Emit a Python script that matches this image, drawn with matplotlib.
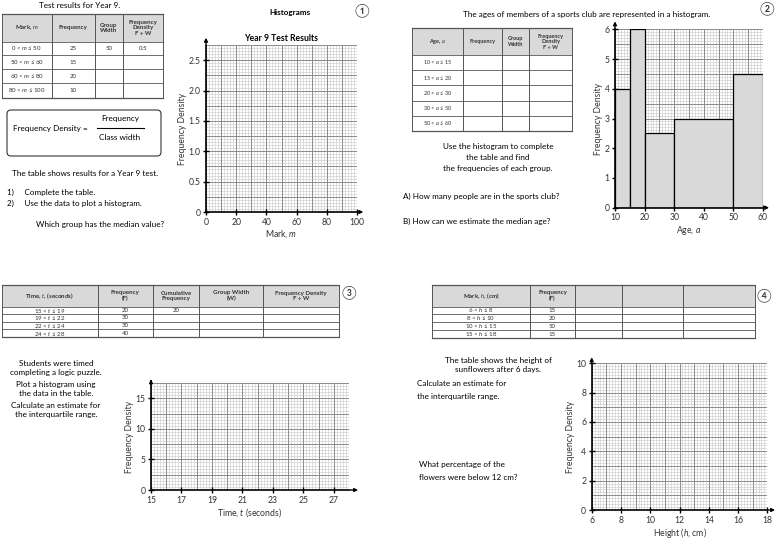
import numpy as np
import matplotlib
matplotlib.use('Agg')
import matplotlib.pyplot as plt
from matplotlib.patches import Rectangle, FancyBboxPatch

plt.rcParams['font.family'] = ['Lato', 'DejaVu Sans', 'Noto Sans CJK SC']
plt.rcParams['mathtext.fontset'] = 'custom'
plt.rcParams['mathtext.rm'] = 'Lato'
plt.rcParams['mathtext.it'] = 'Lato:italic'

# ---- data ----
# 1) Year 9 test
marks_groups = ['0 < $m$ ≤ 50', '50 < $m$ ≤ 60', '60 < $m$ ≤ 80', '80 < $m$ ≤ 100']
marks_freq = ['25', '15', '20', '10']
marks_width = ['50', '', '', '']
marks_fd = ['0.5', '', '', '']

# 2) sports club ages
age_groups = ['10 < $a$ ≤ 15', '15 < $a$ ≤ 20', '20 < $a$ ≤ 30', '30 < $a$ ≤ 50', '50 < $a$ ≤ 60']
age_edges = [10, 15, 20, 30, 50, 60]
age_density = [4, 6, 2.5, 3, 4.5]

# 3) logic puzzle times
time_groups = ['15 < $t$ ≤ 19', '19 < $t$ ≤ 22', '22 < $t$ ≤ 24', '24 < $t$ ≤ 28']
time_freq = ['20', '30', '30', '40']
time_cum = ['20', '', '', '']

# 4) sunflower heights
height_groups = ['6 < $h$ ≤ 8', '8 < $h$ ≤ 10', '10 < $h$ ≤ 15', '15 < $h$ ≤ 18']
height_freq = ['15', '20', '50', '15']

fig = plt.figure(figsize=(7.8, 5.4), dpi=100)
fig.patch.set_facecolor('white')

# overlay in pixel coordinates for text + tables
ov = fig.add_axes([0, 0, 1, 1])
ov.set_xlim(0, 780)
ov.set_ylim(540, 0)
ov.axis('off')

BODY = 5.9
TAB = 4.4
TICK = 6.2


def draw_table(cols, rows, header, body, fs=TAB):
    ov.add_patch(Rectangle((cols[0], rows[0]), cols[-1] - cols[0], rows[1] - rows[0],
                           facecolor='#d9d9d9', edgecolor='none'))
    for x in cols:
        ov.plot([x, x], [rows[0], rows[-1]], color='#555555', lw=0.7)
    for i, y in enumerate(rows):
        ov.plot([cols[0], cols[-1]], [y, y], color='#555555', lw=0.9 if i in (0, len(rows) - 1) else 0.6)
    for j, h in enumerate(header):
        ov.text((cols[j] + cols[j + 1]) / 2, (rows[0] + rows[1]) / 2, h, ha='center', va='center',
                fontsize=fs, fontweight='bold', linespacing=1.1, color='#333333')
    for i, row in enumerate(body):
        for j, v in enumerate(row):
            ov.text((cols[j] + cols[j + 1]) / 2, (rows[i + 1] + rows[i + 2]) / 2, v,
                    ha='center', va='center', fontsize=fs, color='#333333')


def grid_paper(ax, xlim, ylim, xminor, xmajor, yminor, ymajor, xticks, yticks):
    ax.set_xlim(*xlim)
    ax.set_ylim(*ylim)
    for x in np.arange(xlim[0], xlim[1] + 1e-9, xminor):
        ax.axvline(x, color='#c8c8c8', lw=0.4, zorder=0)
    for y in np.arange(ylim[0], ylim[1] + 1e-9, yminor):
        ax.axhline(y, color='#c8c8c8', lw=0.4, zorder=0)
    for x in np.arange(xlim[0], xlim[1] + 1e-9, xmajor):
        ax.axvline(x, color='#8c8c8c', lw=0.7, zorder=0)
    for y in np.arange(ylim[0], ylim[1] + 1e-9, ymajor):
        ax.axhline(y, color='#8c8c8c', lw=0.7, zorder=0)
    ax.set_xticks(xticks)
    ax.set_yticks(yticks)
    for s in ['top', 'right']:
        ax.spines[s].set_visible(False)
    for s in ['left', 'bottom']:
        ax.spines[s].set_linewidth(1.2)
        ax.spines[s].set_zorder(5)
    ax.tick_params(direction='inout', length=5, width=1, labelsize=TICK, pad=1.5,
                   labelcolor='#333333')
    ax.annotate('', xy=(0, 1.06), xytext=(0, 0.99), xycoords='axes fraction',
                arrowprops=dict(arrowstyle='-|>', color='black', lw=1, mutation_scale=5))
    ax.annotate('', xy=(1.06, 0), xytext=(0.99, 0), xycoords='axes fraction',
                arrowprops=dict(arrowstyle='-|>', color='black', lw=1, mutation_scale=5))
    ax.set_facecolor('white')


def label(ax, xl, yl):
    ax.set_xlabel(xl, fontsize=TICK, labelpad=1, color='#333333')
    ax.set_ylabel(yl, fontsize=TICK, labelpad=1, color='#333333')


# ---------- section 1 ----------
ov.text(80, 6, 'Test results for Year 9.', ha='center', va='center', fontsize=BODY)
draw_table([1.7, 51.7, 95, 122.7, 163], [14, 41.7, 55, 69, 83.3, 97.7],
           ['Mark, $m$', 'Frequency', 'Group\nWidth', 'Frequency\nDensity\nF ÷ W'],
           list(zip(marks_groups, marks_freq, marks_width, marks_fd)))
ov.add_patch(FancyBboxPatch((7, 110), 154, 46, boxstyle='round,pad=0,rounding_size=4',
                            facecolor='white', edgecolor='#333333', lw=0.8))
ov.text(50, 129, 'Frequency Density =', ha='center', va='center', fontsize=BODY)
ov.text(120, 119, 'Frequency', ha='center', va='center', fontsize=BODY)
ov.plot([97, 144], [128, 128], color='black', lw=0.8)
ov.text(120, 137, 'Class width', ha='center', va='center', fontsize=BODY)
ov.text(85, 173, 'The table shows results for a Year 9 test.', ha='center', va='center', fontsize=BODY)
ov.text(7, 192.5, '1)     Complete the table.', ha='left', va='center', fontsize=BODY)
ov.text(7, 203.5, '2)     Use the data to plot a histogram.', ha='left', va='center', fontsize=BODY)
ov.text(100, 225, 'Which group has the median value?', ha='center', va='center', fontsize=BODY)
ov.text(290, 12, 'Histograms', ha='center', va='center', fontsize=BODY, fontweight='bold')
ov.text(362, 10, '①', ha='center', va='center', fontsize=9.5, color='#333333')

ax1 = fig.add_axes([206 / 780, 1 - 212 / 540, 151 / 780, 167 / 540])
grid_paper(ax1, (0, 100), (0, 2.75), 2, 10, 0.05, 0.25,
           [0, 20, 40, 60, 80, 100], [0, 0.5, 1.0, 1.5, 2.0, 2.5])
ax1.set_yticklabels(['0', '0.5', '1.0', '1.5', '2.0', '2.5'])
ax1.set_title('Year 9 Test Results', fontsize=TICK, fontweight='bold', pad=3)
label(ax1, 'Mark, $m$', 'Frequency Density')

# ---------- section 2 ----------
ov.text(587, 14, 'The ages of members of a sports club are represented in a histogram.',
        ha='center', va='center', fontsize=BODY)
ov.text(767, 8, '②', ha='center', va='center', fontsize=9.5, color='#333333')
draw_table([411.7, 462.7, 502.3, 529.3, 571.7], [28.3, 55, 70, 85.3, 100.7, 115.7, 131],
           ['Age, $a$', 'Frequency', 'Group\nWidth', 'Frequency\nDensity\nF ÷ W'],
           [[g, '', '', ''] for g in age_groups], fs=4.0)
ov.text(498, 146.5, 'Use the histogram to complete', ha='center', va='center', fontsize=BODY)
ov.text(498, 158, 'the table and find', ha='center', va='center', fontsize=BODY)
ov.text(498, 169, 'the frequencies of each group.', ha='center', va='center', fontsize=BODY)
ov.text(403, 196.5, 'A) How many people are in the sports club?', ha='left', va='center', fontsize=BODY)
ov.text(403, 221, 'B) How can we estimate the median age?', ha='left', va='center', fontsize=BODY)

ax2 = fig.add_axes([615 / 780, 1 - 207.7 / 540, 148 / 780, 178.4 / 540])
grid_paper(ax2, (10, 60), (0, 6), 1, 5, 0.1, 0.5,
           [10, 20, 30, 40, 50, 60], [0, 1, 2, 3, 4, 5, 6])
ax2.bar(age_edges[:-1], age_density, width=np.diff(age_edges), align='edge',
        color='#d9d9d9', edgecolor='black', lw=0.9, zorder=2)
label(ax2, 'Age, $a$', 'Frequency Density')

# ---------- section 3 ----------
draw_table([1.7, 97.7, 152.7, 199.3, 263.3, 339], [285, 306.7, 314, 321.7, 329.3, 337.3],
           ['Time, $t$, (seconds)', 'Frequency\n(F)', 'Cumulative\nFrequency', 'Group Width\n(W)',
            'Frequency Density\nF ÷ W'],
           [[g, f, c, '', ''] for g, f, c in zip(time_groups, time_freq, time_cum)])
ov.text(348.5, 292, '③', ha='center', va='center', fontsize=9.5, color='#333333')
for y, s in [(364, 'Students were timed'), (372.7, 'completing a logic puzzle.'),
             (385, 'Plot a histogram using'), (393.3, 'the data in the table.'),
             (406, 'Calculate an estimate for'), (414, 'the interquartile range.')]:
    ov.text(56, y, s, ha='center', va='center', fontsize=BODY)

ax3 = fig.add_axes([151 / 780, 1 - 490 / 540, 198 / 780, 107 / 540])
grid_paper(ax3, (15, 28), (0, 17.5), 0.2, 1, 0.5, 2.5,
           [15, 17, 19, 21, 23, 25, 27], [0, 5, 10, 15])
label(ax3, 'Time, $t$ (seconds)', 'Frequency Density')

# ---------- section 4 ----------
draw_table([431.7, 530, 575, 622.3, 683.3, 755], [285, 306.7, 314.3, 322.3, 330, 338.3],
           ['Mark, $h$, (cm)', 'Frequency\n(F)', '', '', ''],
           [[g, f, '', '', ''] for g, f in zip(height_groups, height_freq)])
ov.text(763.5, 295, '④', ha='center', va='center', fontsize=9.5, color='#333333')
ov.text(498, 360.5, 'The table shows the height of', ha='center', va='center', fontsize=BODY)
ov.text(498, 369.3, 'sunflowers after 6 days.', ha='center', va='center', fontsize=BODY)
ov.text(417, 384, 'Calculate an estimate for', ha='left', va='center', fontsize=BODY)
ov.text(417, 396, 'the interquartile range.', ha='left', va='center', fontsize=BODY)
ov.text(419, 465, 'What percentage of the', ha='left', va='center', fontsize=BODY)
ov.text(419, 477.5, 'flowers were below 12 cm?', ha='left', va='center', fontsize=BODY)

ax4 = fig.add_axes([591.7 / 780, 1 - 510 / 540, 175.6 / 780, 146.7 / 540])
grid_paper(ax4, (6, 18), (0, 10), 0.2, 1, 0.2, 1,
           [6, 8, 10, 12, 14, 16, 18], [0, 2, 4, 6, 8, 10])
label(ax4, 'Height ($h$, cm)', 'Frequency Density')

fig.savefig('out.png', dpi=100)
